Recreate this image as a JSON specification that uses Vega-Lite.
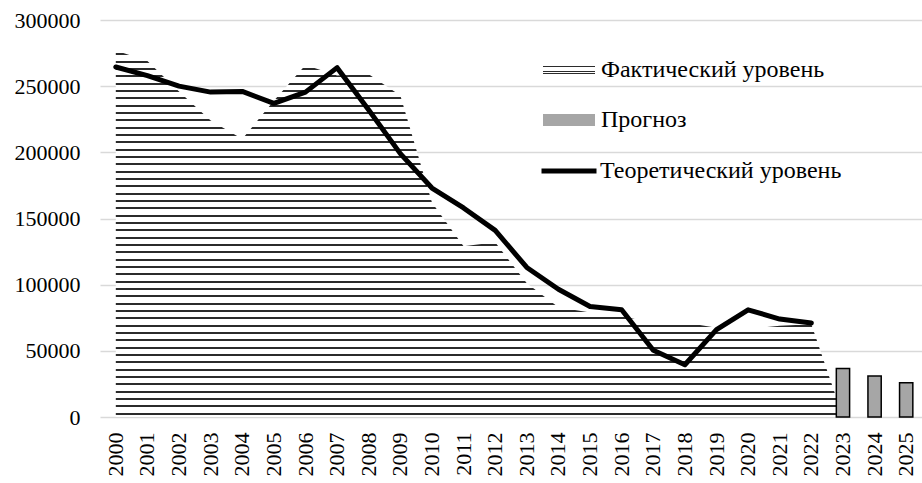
{
  "$schema": "https://vega.github.io/schema/vega-lite/v6.json",
  "width": 822,
  "height": 397,
  "autosize": "none",
  "padding": {"left": 100, "top": 20, "right": 0, "bottom": 66},
  "background": "white",
  "config": {
    "font": "Liberation Serif",
    "view": {"stroke": null},
    "axis": {"labelFont": "Liberation Serif", "labelFontSize": 22, "labelColor": "#000", "domain": false, "ticks": false, "title": null},
    "legend": {"labelFont": "Liberation Serif", "labelFontSize": 24, "labelColor": "#000", "title": null, "orient": "none", "padding": 0, "labelOffset": 6, "labelLimit": 500}
  },
  "data": {"values": [
    {"year": "2000", "fact": 277000, "theory": 264500, "forecast": null},
    {"year": "2001", "fact": 269000, "theory": 258000, "forecast": null},
    {"year": "2002", "fact": 246000, "theory": 250000, "forecast": null},
    {"year": "2003", "fact": 224000, "theory": 245500, "forecast": null},
    {"year": "2004", "fact": 210000, "theory": 246000, "forecast": null},
    {"year": "2005", "fact": 239000, "theory": 237000, "forecast": null},
    {"year": "2006", "fact": 266000, "theory": 245500, "forecast": null},
    {"year": "2007", "fact": 258000, "theory": 264000, "forecast": null},
    {"year": "2008", "fact": 259000, "theory": 232000, "forecast": null},
    {"year": "2009", "fact": 243000, "theory": 199000, "forecast": null},
    {"year": "2010", "fact": 162000, "theory": 173000, "forecast": null},
    {"year": "2011", "fact": 129000, "theory": 158000, "forecast": null},
    {"year": "2012", "fact": 132000, "theory": 141000, "forecast": null},
    {"year": "2013", "fact": 101000, "theory": 113000, "forecast": null},
    {"year": "2014", "fact": 83000, "theory": 96500, "forecast": null},
    {"year": "2015", "fact": 79000, "theory": 83500, "forecast": null},
    {"year": "2016", "fact": 76000, "theory": 81000, "forecast": null},
    {"year": "2017", "fact": 71500, "theory": 50500, "forecast": null},
    {"year": "2018", "fact": 71500, "theory": 39500, "forecast": null},
    {"year": "2019", "fact": 67500, "theory": 66000, "forecast": null},
    {"year": "2020", "fact": 66500, "theory": 81000, "forecast": null},
    {"year": "2021", "fact": 69000, "theory": 74000, "forecast": null},
    {"year": "2022", "fact": 70000, "theory": 71000, "forecast": null},
    {"year": "2023", "fact": 0, "theory": null, "forecast": 36700},
    {"year": "2024", "fact": null, "theory": null, "forecast": 30900},
    {"year": "2025", "fact": null, "theory": null, "forecast": 25900}
  ]},
  "resolve": {"scale": {"color": "independent", "stroke": "independent"}, "legend": {"color": "independent", "stroke": "independent"}},
  "layer": [
    {
      "transform": [{"filter": {"field": "fact", "valid": true}}],
      "mark": {"type": "area", "strokeWidth": 0, "fill": {"gradient": "linear", "x1": 0, "y1": 0, "x2": 0, "y2": 1, "stops": [
        {"offset":0.008,"color":"#fff"},{"offset":0.008,"color":"#2b2b2b"},{"offset":0.0135,"color":"#2b2b2b"},{"offset":0.0135,"color":"#fff"},
        {"offset":0.028,"color":"#fff"},{"offset":0.028,"color":"#2b2b2b"},{"offset":0.0335,"color":"#2b2b2b"},{"offset":0.0335,"color":"#fff"},
        {"offset":0.048,"color":"#fff"},{"offset":0.048,"color":"#2b2b2b"},{"offset":0.0535,"color":"#2b2b2b"},{"offset":0.0535,"color":"#fff"},
        {"offset":0.068,"color":"#fff"},{"offset":0.068,"color":"#2b2b2b"},{"offset":0.0735,"color":"#2b2b2b"},{"offset":0.0735,"color":"#fff"},
        {"offset":0.088,"color":"#fff"},{"offset":0.088,"color":"#2b2b2b"},{"offset":0.0935,"color":"#2b2b2b"},{"offset":0.0935,"color":"#fff"},
        {"offset":0.108,"color":"#fff"},{"offset":0.108,"color":"#2b2b2b"},{"offset":0.1135,"color":"#2b2b2b"},{"offset":0.1135,"color":"#fff"},
        {"offset":0.128,"color":"#fff"},{"offset":0.128,"color":"#2b2b2b"},{"offset":0.1335,"color":"#2b2b2b"},{"offset":0.1335,"color":"#fff"},
        {"offset":0.148,"color":"#fff"},{"offset":0.148,"color":"#2b2b2b"},{"offset":0.1535,"color":"#2b2b2b"},{"offset":0.1535,"color":"#fff"},
        {"offset":0.168,"color":"#fff"},{"offset":0.168,"color":"#2b2b2b"},{"offset":0.1735,"color":"#2b2b2b"},{"offset":0.1735,"color":"#fff"},
        {"offset":0.188,"color":"#fff"},{"offset":0.188,"color":"#2b2b2b"},{"offset":0.1935,"color":"#2b2b2b"},{"offset":0.1935,"color":"#fff"},
        {"offset":0.208,"color":"#fff"},{"offset":0.208,"color":"#2b2b2b"},{"offset":0.2135,"color":"#2b2b2b"},{"offset":0.2135,"color":"#fff"},
        {"offset":0.228,"color":"#fff"},{"offset":0.228,"color":"#2b2b2b"},{"offset":0.2335,"color":"#2b2b2b"},{"offset":0.2335,"color":"#fff"},
        {"offset":0.248,"color":"#fff"},{"offset":0.248,"color":"#2b2b2b"},{"offset":0.2535,"color":"#2b2b2b"},{"offset":0.2535,"color":"#fff"},
        {"offset":0.268,"color":"#fff"},{"offset":0.268,"color":"#2b2b2b"},{"offset":0.2735,"color":"#2b2b2b"},{"offset":0.2735,"color":"#fff"},
        {"offset":0.288,"color":"#fff"},{"offset":0.288,"color":"#2b2b2b"},{"offset":0.2935,"color":"#2b2b2b"},{"offset":0.2935,"color":"#fff"},
        {"offset":0.308,"color":"#fff"},{"offset":0.308,"color":"#2b2b2b"},{"offset":0.3135,"color":"#2b2b2b"},{"offset":0.3135,"color":"#fff"},
        {"offset":0.328,"color":"#fff"},{"offset":0.328,"color":"#2b2b2b"},{"offset":0.3335,"color":"#2b2b2b"},{"offset":0.3335,"color":"#fff"},
        {"offset":0.348,"color":"#fff"},{"offset":0.348,"color":"#2b2b2b"},{"offset":0.3535,"color":"#2b2b2b"},{"offset":0.3535,"color":"#fff"},
        {"offset":0.368,"color":"#fff"},{"offset":0.368,"color":"#2b2b2b"},{"offset":0.3735,"color":"#2b2b2b"},{"offset":0.3735,"color":"#fff"},
        {"offset":0.388,"color":"#fff"},{"offset":0.388,"color":"#2b2b2b"},{"offset":0.3935,"color":"#2b2b2b"},{"offset":0.3935,"color":"#fff"},
        {"offset":0.408,"color":"#fff"},{"offset":0.408,"color":"#2b2b2b"},{"offset":0.4135,"color":"#2b2b2b"},{"offset":0.4135,"color":"#fff"},
        {"offset":0.428,"color":"#fff"},{"offset":0.428,"color":"#2b2b2b"},{"offset":0.4335,"color":"#2b2b2b"},{"offset":0.4335,"color":"#fff"},
        {"offset":0.448,"color":"#fff"},{"offset":0.448,"color":"#2b2b2b"},{"offset":0.4535,"color":"#2b2b2b"},{"offset":0.4535,"color":"#fff"},
        {"offset":0.468,"color":"#fff"},{"offset":0.468,"color":"#2b2b2b"},{"offset":0.4735,"color":"#2b2b2b"},{"offset":0.4735,"color":"#fff"},
        {"offset":0.488,"color":"#fff"},{"offset":0.488,"color":"#2b2b2b"},{"offset":0.4935,"color":"#2b2b2b"},{"offset":0.4935,"color":"#fff"},
        {"offset":0.508,"color":"#fff"},{"offset":0.508,"color":"#2b2b2b"},{"offset":0.5135,"color":"#2b2b2b"},{"offset":0.5135,"color":"#fff"},
        {"offset":0.528,"color":"#fff"},{"offset":0.528,"color":"#2b2b2b"},{"offset":0.5335,"color":"#2b2b2b"},{"offset":0.5335,"color":"#fff"},
        {"offset":0.548,"color":"#fff"},{"offset":0.548,"color":"#2b2b2b"},{"offset":0.5535,"color":"#2b2b2b"},{"offset":0.5535,"color":"#fff"},
        {"offset":0.568,"color":"#fff"},{"offset":0.568,"color":"#2b2b2b"},{"offset":0.5735,"color":"#2b2b2b"},{"offset":0.5735,"color":"#fff"},
        {"offset":0.588,"color":"#fff"},{"offset":0.588,"color":"#2b2b2b"},{"offset":0.5935,"color":"#2b2b2b"},{"offset":0.5935,"color":"#fff"},
        {"offset":0.608,"color":"#fff"},{"offset":0.608,"color":"#2b2b2b"},{"offset":0.6135,"color":"#2b2b2b"},{"offset":0.6135,"color":"#fff"},
        {"offset":0.628,"color":"#fff"},{"offset":0.628,"color":"#2b2b2b"},{"offset":0.6335,"color":"#2b2b2b"},{"offset":0.6335,"color":"#fff"},
        {"offset":0.648,"color":"#fff"},{"offset":0.648,"color":"#2b2b2b"},{"offset":0.6535,"color":"#2b2b2b"},{"offset":0.6535,"color":"#fff"},
        {"offset":0.668,"color":"#fff"},{"offset":0.668,"color":"#2b2b2b"},{"offset":0.6735,"color":"#2b2b2b"},{"offset":0.6735,"color":"#fff"},
        {"offset":0.688,"color":"#fff"},{"offset":0.688,"color":"#2b2b2b"},{"offset":0.6935,"color":"#2b2b2b"},{"offset":0.6935,"color":"#fff"},
        {"offset":0.708,"color":"#fff"},{"offset":0.708,"color":"#2b2b2b"},{"offset":0.7135,"color":"#2b2b2b"},{"offset":0.7135,"color":"#fff"},
        {"offset":0.728,"color":"#fff"},{"offset":0.728,"color":"#2b2b2b"},{"offset":0.7335,"color":"#2b2b2b"},{"offset":0.7335,"color":"#fff"},
        {"offset":0.748,"color":"#fff"},{"offset":0.748,"color":"#2b2b2b"},{"offset":0.7535,"color":"#2b2b2b"},{"offset":0.7535,"color":"#fff"},
        {"offset":0.768,"color":"#fff"},{"offset":0.768,"color":"#2b2b2b"},{"offset":0.7735,"color":"#2b2b2b"},{"offset":0.7735,"color":"#fff"},
        {"offset":0.788,"color":"#fff"},{"offset":0.788,"color":"#2b2b2b"},{"offset":0.7935,"color":"#2b2b2b"},{"offset":0.7935,"color":"#fff"},
        {"offset":0.808,"color":"#fff"},{"offset":0.808,"color":"#2b2b2b"},{"offset":0.8135,"color":"#2b2b2b"},{"offset":0.8135,"color":"#fff"},
        {"offset":0.828,"color":"#fff"},{"offset":0.828,"color":"#2b2b2b"},{"offset":0.8335,"color":"#2b2b2b"},{"offset":0.8335,"color":"#fff"},
        {"offset":0.848,"color":"#fff"},{"offset":0.848,"color":"#2b2b2b"},{"offset":0.8535,"color":"#2b2b2b"},{"offset":0.8535,"color":"#fff"},
        {"offset":0.868,"color":"#fff"},{"offset":0.868,"color":"#2b2b2b"},{"offset":0.8735,"color":"#2b2b2b"},{"offset":0.8735,"color":"#fff"},
        {"offset":0.888,"color":"#fff"},{"offset":0.888,"color":"#2b2b2b"},{"offset":0.8935,"color":"#2b2b2b"},{"offset":0.8935,"color":"#fff"},
        {"offset":0.908,"color":"#fff"},{"offset":0.908,"color":"#2b2b2b"},{"offset":0.9135,"color":"#2b2b2b"},{"offset":0.9135,"color":"#fff"},
        {"offset":0.928,"color":"#fff"},{"offset":0.928,"color":"#2b2b2b"},{"offset":0.9335,"color":"#2b2b2b"},{"offset":0.9335,"color":"#fff"},
        {"offset":0.948,"color":"#fff"},{"offset":0.948,"color":"#2b2b2b"},{"offset":0.9535,"color":"#2b2b2b"},{"offset":0.9535,"color":"#fff"},
        {"offset":0.968,"color":"#fff"},{"offset":0.968,"color":"#2b2b2b"},{"offset":0.9735,"color":"#2b2b2b"},{"offset":0.9735,"color":"#fff"},
        {"offset":0.988,"color":"#fff"},{"offset":0.988,"color":"#2b2b2b"},{"offset":0.9935,"color":"#2b2b2b"},{"offset":0.9935,"color":"#fff"}
      ]}},
      "encoding": {
        "x": {"field": "year", "type": "ordinal", "bandPosition": 0.5,
              "scale": {"domain": ["2000","2001","2002","2003","2004","2005","2006","2007","2008","2009","2010","2011","2012","2013","2014","2015","2016","2017","2018","2019","2020","2021","2022","2023","2024","2025"], "paddingInner": 0.58, "paddingOuter": 0.29},
              "axis": {"labelAngle": -90, "labelPadding": 15, "grid": false}},
        "y": {"field": "fact", "type": "quantitative",
              "scale": {"domain": [0, 300000], "nice": false},
              "axis": {"values": [0, 50000, 100000, 150000, 200000, 250000, 300000], "format": "d", "labelPadding": 20, "grid": true, "gridColor": "#d9d9d9", "gridWidth": 1.5}},
        "stroke": {"datum": "Фактический уровень", "scale": {"range": ["#888888"]},
                   "legend": {"legendX": 443, "legendY": 24, "symbolType": "M-1,-0.15H1V0.15H-1Z", "symbolSize": 2704, "symbolStrokeWidth": 0, "symbolFillColor": "#b0b0b0", "symbolOpacity": 1}}
      }
    },
    {
      "transform": [{"filter": {"field": "forecast", "valid": true}}],
      "mark": {"type": "bar", "stroke": "#000", "strokeWidth": 1.5},
      "encoding": {
        "x": {"field": "year", "type": "ordinal"},
        "y": {"field": "forecast", "type": "quantitative"},
        "color": {"datum": "Прогноз", "scale": {"range": ["#a6a6a6"]},
                  "legend": {"legendX": 443, "legendY": 74, "symbolType": "M-1,-0.23H1V0.23H-1Z", "symbolSize": 2704, "symbolStrokeWidth": 0, "symbolOpacity": 1}}
      }
    },
    {
      "transform": [{"filter": {"field": "theory", "valid": true}}],
      "mark": {"type": "line", "strokeWidth": 5, "strokeJoin": "round", "strokeCap": "round"},
      "encoding": {
        "x": {"field": "year", "type": "ordinal", "bandPosition": 0.5},
        "y": {"field": "theory", "type": "quantitative"},
        "color": {"datum": "Теоретический уровень", "scale": {"range": ["#000000"]},
                  "legend": {"legendX": 439, "legendY": 121, "symbolType": "stroke", "symbolSize": 3025, "symbolStrokeWidth": 5, "symbolOpacity": 1, "labelOffset": 1}}
      }
    }
  ]
}
